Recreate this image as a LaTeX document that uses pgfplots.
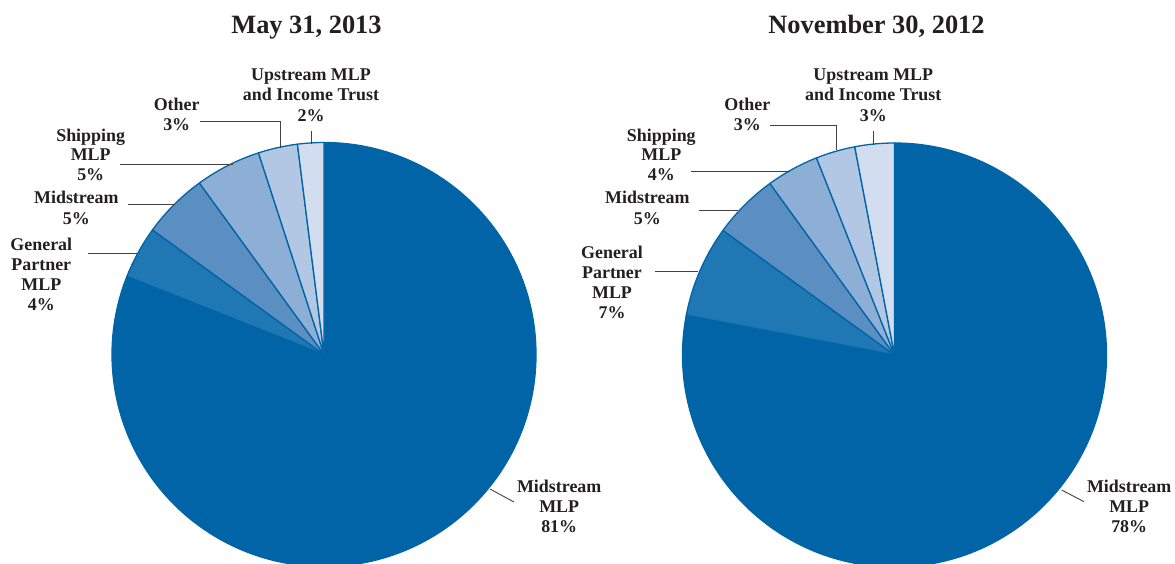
\documentclass[border=0pt]{standalone}
\usepackage{pgfplots}
\usepackage{pgfplotstable}
\pgfplotsset{compat=1.18}
\usepackage{fontspec}
\setmainfont{Liberation Serif}

\definecolor{cA}{RGB}{0,100,166}
\definecolor{cB}{RGB}{31,119,180}
\definecolor{cC}{RGB}{91,143,194}
\definecolor{cD}{RGB}{141,175,214}
\definecolor{cE}{RGB}{177,199,227}
\definecolor{cF}{RGB}{210,221,239}
\definecolor{txt}{RGB}{35,31,32}

\tikzset{
  lbl/.style={anchor=base, font=\bfseries\fontsize{18}{20}\selectfont, text=txt, inner sep=0pt},
  ttl/.style={anchor=base, font=\bfseries\fontsize{26.5}{30}\selectfont, text=txt, inner sep=0pt},
}

% May 31, 2013 (clockwise from 12 o'clock)
\pgfplotstableread{
value color
81 cA
4 cB
5 cC
5 cD
3 cE
2 cF
}\pieA
% November 30, 2012
\pgfplotstableread{
value color
78 cA
7 cB
5 cC
4 cD
3 cE
3 cF
}\pieB

\newcommand\drawpie[4]{%
  \def\startang{90}%
  \pgfplotstablegetrowsof{#1}%
  \pgfmathtruncatemacro\nrows{\pgfplotsretval-1}%
  \pgfplotsforeachungrouped \i in {0,...,\nrows} {%
    \pgfplotstablegetelem{\i}{value}\of{#1}\let\v=\pgfplotsretval
    \pgfplotstablegetelem{\i}{color}\of{#1}\let\c=\pgfplotsretval
    \pgfmathsetmacro\endang{\startang-3.6*\v}%
    \edef\temp{\noexpand\filldraw[fill=\c, draw=cA, line width=1.3pt, line join=round]
      (axis cs:#2,#3) -- ++(\startang:#4bp) arc[start angle=\startang, end angle=\endang, radius=#4bp] -- cycle;}%
    \temp
    \global\let\startang=\endang
  }%
}
\newcommand\tl[3]{\node[lbl] at (axis cs:#1,#2) {#3};}

\begin{document}
\begin{tikzpicture}
\begin{axis}[
  width=1175bp, height=563bp, scale only axis,
  xmin=0, xmax=1175, ymin=0, ymax=563, y dir=reverse,
  hide axis, clip=true,
]
\drawpie{\pieA}{324}{354.5}{212}
\drawpie{\pieB}{894.5}{355}{212}

% titles
\node[ttl] at (axis cs:306.5,33.3) {May 31, 2013};
\node[ttl] at (axis cs:876.5,33.3) {November 30, 2012};

% leader lines
\draw[txt!85, line width=0.9pt] (axis cs:311.7,131) -- (axis cs:311.7,143.5);
\draw[txt!85, line width=0.9pt] (axis cs:200,121.7) -- (axis cs:280,121.7) -- (axis cs:280,148);
\draw[txt!85, line width=0.9pt] (axis cs:120,164) -- (axis cs:233,164);
\draw[txt!85, line width=0.9pt] (axis cs:128,204) -- (axis cs:175,204);
\draw[txt!85, line width=0.9pt] (axis cs:88,253) -- (axis cs:137,253);
\draw[txt!85, line width=0.9pt] (axis cs:490,489) -- (axis cs:514,502);

\draw[txt!85, line width=0.9pt] (axis cs:873.3,131) -- (axis cs:873.3,144.5);
\draw[txt!85, line width=0.9pt] (axis cs:770,125.7) -- (axis cs:836,125.7) -- (axis cs:836,150);
\draw[txt!85, line width=0.9pt] (axis cs:690.7,171) -- (axis cs:790,171);
\draw[txt!85, line width=0.9pt] (axis cs:699,210) -- (axis cs:738,210);
\draw[txt!85, line width=0.9pt] (axis cs:655,271.7) -- (axis cs:698,271.7);
\draw[txt!85, line width=0.9pt] (axis cs:1061.7,490) -- (axis cs:1084,501.7);

% left labels
\tl{311}{80.7}{Upstream MLP}
\tl{311}{100.7}{and Income Trust}
\tl{311}{121}{2\%}
\tl{176.7}{110}{Other}
\tl{176.7}{130}{3\%}
\tl{90.7}{141}{Shipping}
\tl{90.7}{160.5}{MLP}
\tl{90.7}{180.5}{5\%}
\tl{76.3}{203.3}{Midstream}
\tl{76.3}{224}{5\%}
\tl{41.3}{250.7}{General}
\tl{41.3}{270.7}{Partner}
\tl{41.3}{290.7}{MLP}
\tl{41.3}{310.7}{4\%}
\tl{559.2}{492.3}{Midstream}
\tl{559.2}{512.3}{MLP}
\tl{559.2}{532.3}{81\%}

% right labels
\tl{873.3}{80.7}{Upstream MLP}
\tl{873.3}{100.7}{and Income Trust}
\tl{873.3}{121}{3\%}
\tl{747.3}{110}{Other}
\tl{747.3}{130}{3\%}
\tl{661.3}{141}{Shipping}
\tl{661.3}{160.5}{MLP}
\tl{661.3}{180.5}{4\%}
\tl{647.3}{203.3}{Midstream}
\tl{647.3}{224}{5\%}
\tl{612}{258.3}{General}
\tl{612}{278.3}{Partner}
\tl{612}{298.3}{MLP}
\tl{612}{318.3}{7\%}
\tl{1129.2}{492.3}{Midstream}
\tl{1129.2}{512.3}{MLP}
\tl{1129.2}{532.3}{78\%}
\end{axis}
\pgfresetboundingbox
\path[use as bounding box] (current axis.south west) rectangle (current axis.north east);
\end{tikzpicture}
\end{document}
